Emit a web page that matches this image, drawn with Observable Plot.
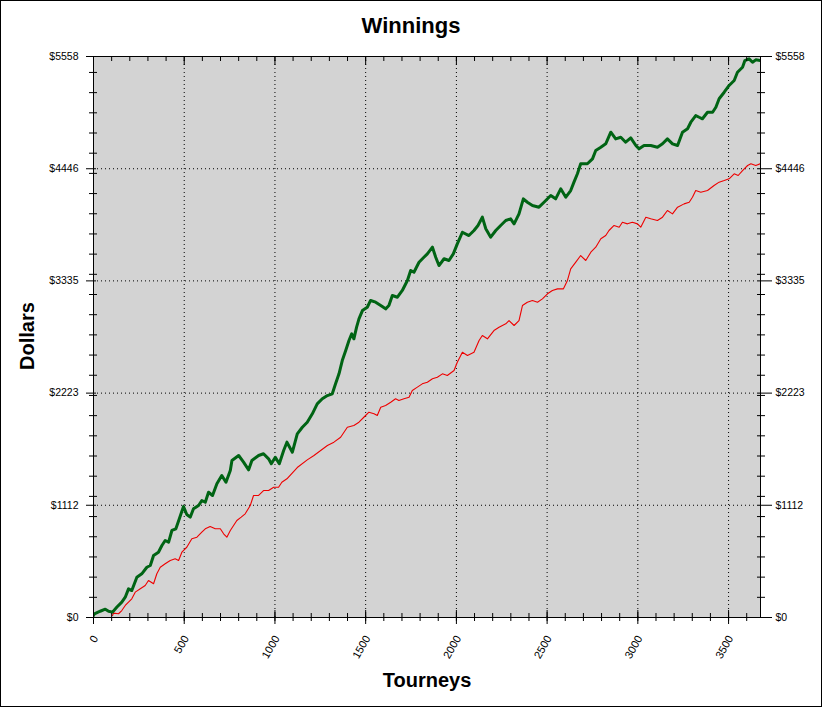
<!DOCTYPE html>
<html>
<head>
<meta charset="utf-8">
<script src="https://cdn.jsdelivr.net/npm/d3@7"></script>
<script src="https://cdn.jsdelivr.net/npm/@observablehq/plot@0.6"></script>
<style>
  html, body { margin: 0; padding: 0; background: #fff; }
  #wrap { position: relative; width: 822px; height: 707px; overflow: hidden; background: #fff; font-family: Arial, "Liberation Sans", sans-serif; }
  #wrap svg { position: absolute; left: 0; top: 0; }
  #border { position: absolute; left: 0; top: 0; width: 822px; height: 707px; box-sizing: border-box; border: 1px solid #000; pointer-events: none; }
  #title { position: absolute; left: 0; top: 14px; width: 822px; text-align: center; font-weight: bold; font-size: 22px; line-height: 24px; }
  #xlab { position: absolute; left: 327px; top: 669px; width: 200px; text-align: center; font-weight: bold; font-size: 20px; line-height: 22px; }
  #ylab { position: absolute; left: -73px; top: 325px; width: 200px; height: 22px; text-align: center; font-weight: bold; font-size: 20px; line-height: 22px; transform: rotate(-90deg); }
</style>
</head>
<body>
<div id="wrap">
  <div id="chart"></div>
  <div id="title">Winnings</div>
  <div id="ylab">Dollars</div>
  <div id="xlab">Tourneys</div>
  <div id="border"></div>
</div>
<script>
// ---- data ----
const greenTourneys = [0,5,37,65,83,105,128,156,175,193,211,239,266,294,313,331,358,377,395,414,432,454,473,496,514,533,551,579,597,616,634,656,680,707,730,754,763,800,827,855,873,910,937,965,980,1002,1024,1048,1066,1096,1123,1151,1178,1206,1233,1261,1289,1316,1334,1353,1371,1390,1408,1423,1435,1450,1463,1482,1509,1527,1555,1583,1610,1628,1647,1675,1702,1730,1748,1766,1794,1821,1840,1868,1886,1904,1932,1959,1983,2005,2033,2069,2097,2119,2143,2162,2189,2217,2244,2272,2299,2318,2345,2369,2391,2419,2455,2483,2520,2547,2575,2603,2630,2648,2667,2685,2722,2750,2768,2796,2823,2851,2878,2906,2933,2961,2989,3007,3034,3071,3108,3136,3163,3191,3219,3246,3274,3292,3319,3338,3356,3384,3412,3430,3448,3476,3503,3531,3549,3577,3590,3613,3632,3650,3674];
const greenDollars = [20,37,62,82,62,53,102,152,201,284,267,399,433,498,515,614,647,713,763,746,862,879,978,1100,1020,994,1077,1110,1159,1142,1241,1209,1325,1407,1340,1456,1555,1605,1539,1463,1555,1605,1622,1572,1523,1588,1523,1654,1737,1638,1820,1885,1935,2018,2117,2167,2199,2216,2315,2414,2546,2645,2744,2811,2761,2876,2959,3041,3074,3141,3124,3091,3058,3091,3190,3173,3240,3339,3438,3421,3520,3569,3603,3669,3569,3487,3554,3537,3603,3702,3817,3784,3834,3884,3966,3851,3768,3834,3884,3933,3950,3900,3999,4148,4114,4082,4065,4114,4181,4148,4247,4164,4230,4313,4396,4495,4495,4544,4627,4659,4693,4808,4742,4758,4709,4752,4676,4643,4676,4676,4659,4693,4742,4693,4676,4808,4842,4907,4973,4956,4941,5006,5006,5055,5139,5204,5271,5320,5402,5452,5518,5535,5501,5525,5518];

const redTourneys = [105,110,138,156,175,193,211,230,258,285,303,331,349,368,395,423,450,469,487,514,542,570,597,616,643,671,699,717,735,754,772,790,814,836,864,882,910,937,965,993,1020,1038,1066,1123,1178,1215,1252,1289,1325,1362,1399,1435,1463,1490,1518,1546,1564,1583,1610,1638,1665,1683,1711,1739,1757,1785,1812,1840,1868,1895,1923,1950,1987,2005,2033,2061,2097,2125,2143,2171,2207,2235,2272,2290,2318,2345,2364,2391,2419,2447,2474,2502,2529,2557,2590,2612,2630,2658,2685,2713,2741,2768,2796,2823,2841,2869,2897,2915,2943,2970,2998,3016,3044,3071,3108,3136,3163,3191,3219,3255,3283,3301,3319,3347,3384,3420,3448,3476,3503,3531,3553,3577,3605,3623,3650,3674];
const redDollars = [20,43,37,69,119,152,185,251,284,317,367,334,433,498,532,565,582,565,647,696,780,796,845,879,902,879,879,829,796,862,911,961,994,1027,1110,1209,1209,1258,1258,1291,1291,1340,1374,1486,1562,1605,1654,1704,1737,1786,1885,1902,1935,1984,2034,2018,2001,2083,2100,2133,2167,2150,2167,2183,2249,2282,2315,2331,2365,2381,2414,2397,2447,2529,2628,2596,2628,2744,2794,2761,2843,2876,2910,2942,2893,2942,3091,3124,3141,3124,3157,3207,3240,3256,3256,3339,3454,3520,3586,3537,3619,3669,3752,3784,3834,3884,3867,3916,3900,3916,3900,3867,3966,3950,3933,3966,4032,3999,4065,4098,4114,4164,4230,4213,4230,4280,4313,4329,4346,4396,4379,4428,4478,4495,4478,4495];

const yTickLabels = [0, 1112, 2223, 3335, 4446, 5558];
const xTickLabels = [0, 500, 1000, 1500, 2000, 2500, 3000, 3500];
const xMax = 3676;
const yMax = 5558;

// ---- build tables ----
const green = greenTourneys.map((t, i) => ({t, v: greenDollars[i]}));
const red = redTourneys.map((t, i) => ({t, v: redDollars[i]}));
const xMinor = d3.range(0, xMax, 100);
const yMinor = d3.range(0, yMax, 200);
const money = d => "$" + d;
const blank = () => "";

const chart = Plot.plot({
  width: 822,
  height: 707,
  marginLeft: 93,
  marginRight: 62,
  marginTop: 56,
  marginBottom: 90,
  x: {domain: [0, xMax]},
  y: {domain: [0, yMax]},
  style: {fontFamily: "Arial, 'Liberation Sans', sans-serif", fontSize: "10.5px", color: "#000", background: "transparent", overflow: "visible"},
  marks: [
    Plot.frame({fill: "#d3d3d3"}),
    Plot.ruleY(yTickLabels.slice(1, -1), {stroke: "#000", strokeDasharray: "1,3"}),
    Plot.ruleX(xTickLabels.slice(1), {stroke: "#000", strokeDasharray: "1,3"}),
    Plot.lineY(red, {x: "t", y: "v", stroke: "#ee0000", strokeWidth: 1.1, clip: true}),
    Plot.lineY(green, {x: "t", y: "v", stroke: "#006414", strokeWidth: 3, clip: true}),
    Plot.frame({stroke: "#000"}),
    // left axis
    Plot.axisY(yMinor, {anchor: "left", tickSize: 8, dx: 4, tickFormat: blank, label: null}),
    Plot.axisY(yTickLabels, {anchor: "left", tickSize: 10, dx: 3, tickFormat: blank, label: null}),
    Plot.axisY(yTickLabels, {anchor: "left", tickSize: 0, tickPadding: 15, tickFormat: money, label: null}),
    // right axis
    Plot.axisY(yMinor, {anchor: "right", tickSize: 8, dx: -4, tickFormat: blank, label: null}),
    Plot.axisY(yTickLabels, {anchor: "right", tickSize: 14, dx: -3, tickFormat: blank, label: null}),
    Plot.axisY(yTickLabels, {anchor: "right", tickSize: 0, tickPadding: 15, tickFormat: money, label: null}),
    // bottom axis
    Plot.axisX(xMinor, {anchor: "bottom", tickSize: 8, dy: -4, tickFormat: blank, label: null}),
    Plot.axisX(xTickLabels, {anchor: "bottom", tickSize: 14, dy: -7, tickFormat: blank, label: null}),
    Plot.axisX(xTickLabels, {anchor: "bottom", tickSize: 0, tickPadding: 19, dx: 2, tickRotate: -60, fontSize: 11, tickFormat: d => String(d), label: null}),
    // top axis (ticks pointing inward)
    Plot.axisX(xMinor, {anchor: "top", tickSize: 4, dy: 4, tickFormat: blank, label: null}),
    Plot.axisX(xTickLabels, {anchor: "top", tickSize: 8, dy: 8, tickFormat: blank, label: null})
  ]
});
document.getElementById("chart").appendChild(chart);
</script>
</body>
</html>
